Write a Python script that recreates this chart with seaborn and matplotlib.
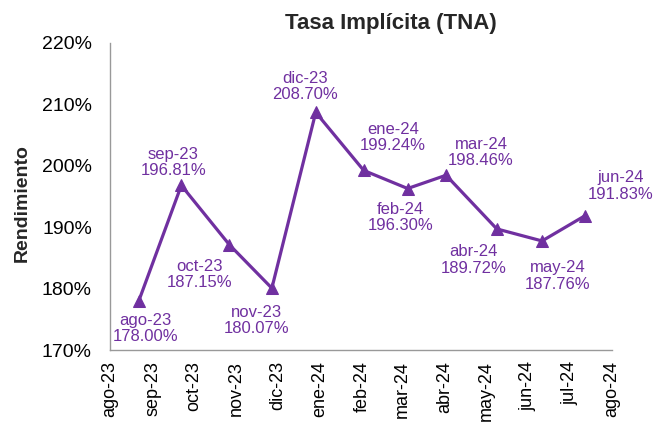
import matplotlib
matplotlib.use("Agg")
import matplotlib.pyplot as plt
import matplotlib.dates as mdates
from matplotlib.ticker import FuncFormatter
import pandas as pd
import seaborn as sns

# data
fechas = ["2023-08-22", "2023-09-22", "2023-10-27", "2023-11-27", "2023-12-29",
          "2024-02-02", "2024-03-05", "2024-04-02", "2024-05-09", "2024-06-11",
          "2024-07-12"]
etiquetas = ["ago-23", "sep-23", "oct-23", "nov-23", "dic-23", "ene-24",
             "feb-24", "mar-24", "abr-24", "may-24", "jun-24"]
tna = [178.00, 196.81, 187.15, 180.07, 208.70, 199.24, 196.30, 198.46,
       189.72, 187.76, 191.83]
meses = ["ene", "feb", "mar", "abr", "may", "jun", "jul", "ago", "sep",
         "oct", "nov", "dic"]

df = pd.DataFrame({"fecha": pd.to_datetime(fechas), "tna": tna, "label": etiquetas})

# label offsets in pixels (layout only)
offs = [(7, -28), (-8, 23), (-30, -30), (-15, -32), (-11, 26), (29, 33),
        (-7, -29), (35, 23), (-23, -31), (16, -35), (36, 30)]

sns.set_style("white")
plt.rcParams["font.family"] = ["Liberation Sans", "DejaVu Sans"]

purple = "#7030A0"
fig = plt.figure(figsize=(6.53, 4.23), dpi=100)
ax = fig.add_axes([110/653, 73/423, 502/653, 307/423])

sns.lineplot(data=df, x="fecha", y="tna", ax=ax, color=purple, linewidth=2.3,
             marker="^", markersize=9, markeredgecolor=purple)

for (_, r), (dx, dy) in zip(df.iterrows(), offs):
    ax.annotate(f"{r['label']}\n{r['tna']:.2f}%", (r["fecha"], r["tna"]),
                xytext=(dx, dy), textcoords="offset pixels", ha="center",
                va="center", color=purple, fontsize=12, linespacing=1.1)

ax.set_ylim(170, 220)
ax.set_yticks(range(170, 221, 10))
ax.yaxis.set_major_formatter(FuncFormatter(lambda v, p: f"{v:.0f}%"))
ax.set_xlim(pd.Timestamp("2023-08-01"), pd.Timestamp("2024-08-01"))
ax.xaxis.set_major_locator(mdates.MonthLocator())
ax.xaxis.set_major_formatter(FuncFormatter(
    lambda v, p: f"{meses[mdates.num2date(v).month - 1]}-{mdates.num2date(v).strftime('%y')}"))
plt.setp(ax.get_xticklabels(), rotation=90)

for s in ["top", "right"]:
    ax.spines[s].set_visible(False)
for s in ["left", "bottom"]:
    ax.spines[s].set_color("#999999")
    ax.spines[s].set_linewidth(1)
ax.tick_params(axis="both", which="major", direction="out", length=5,
               width=1, color="#999999", labelsize=14, labelcolor="black")
ax.tick_params(axis="x", pad=3, labelsize=13)
ax.tick_params(axis="y", pad=8)

ax.set_xlabel("")
ax.set_ylabel("Rendimiento", fontsize=14, fontweight="bold")
ax.yaxis.set_label_coords(-0.157, 0.477)

fig.text(391/653, 1 - 24/423, "Tasa Implícita (TNA)", ha="center", va="center",
         fontsize=16, fontweight="bold")

fig.savefig("out.png", dpi=100)
